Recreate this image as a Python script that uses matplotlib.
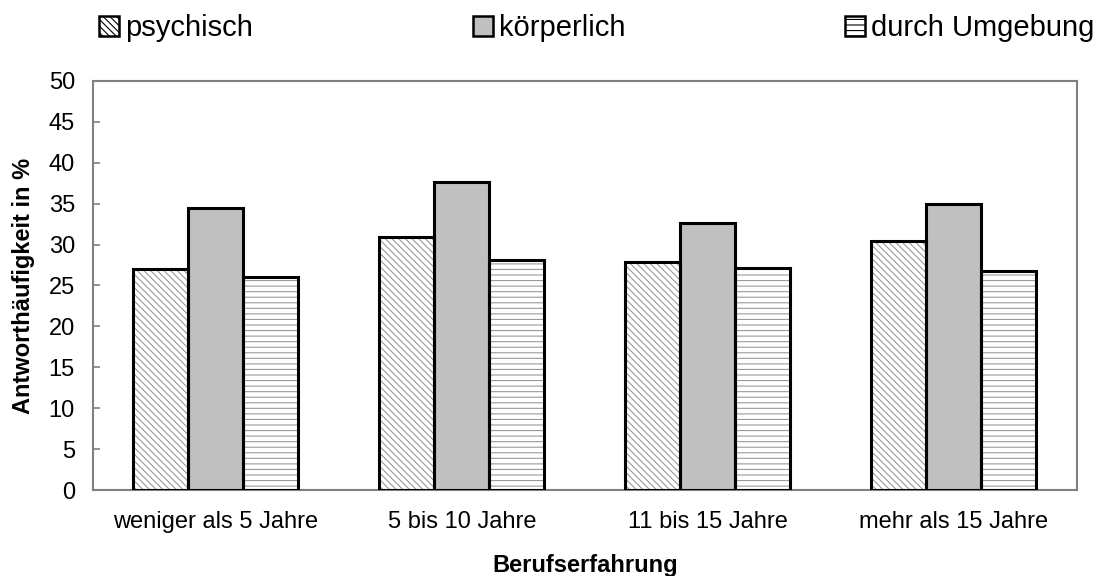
import numpy as np
import matplotlib
matplotlib.use("Agg")
import matplotlib.pyplot as plt
from matplotlib.patches import Patch

categories = ["weniger als 5 Jahre", "5 bis 10 Jahre", "11 bis 15 Jahre", "mehr als 15 Jahre"]
series_names = ["psychisch", "körperlich", "durch Umgebung"]
psychisch = [27.0, 30.9, 27.9, 30.4]
koerperlich = [34.5, 37.6, 32.7, 35.0]
umgebung = [26.0, 28.1, 27.1, 26.8]
yticks = list(range(0, 55, 5))

plt.rcParams['font.family'] = ['Liberation Sans', 'DejaVu Sans']
plt.rcParams['hatch.linewidth'] = 0.8

fig = plt.figure(figsize=(11, 5.76), dpi=100)
ax = fig.add_axes([0.0845, 0.1493, 0.8945, 0.7101])

x = np.arange(len(categories))
w = 0.2236
styles = [
    dict(fill='white', hatch='\\' * 5, hcol='#9a9a9a'),
    dict(fill='#c0c0c0', hatch=None, hcol=None),
    dict(fill='white', hatch='---', hcol='#9a9a9a'),
]
handles = []
for i, vals in enumerate([psychisch, koerperlich, umgebung]):
    st = styles[i]
    pos = x + (i - 1) * w
    # hatch layer (gray lines), then black outline on top
    ax.bar(pos, vals, w, color=st['fill'], hatch=st['hatch'],
           edgecolor=st['hcol'] if st['hcol'] else st['fill'], linewidth=0, zorder=2)
    ax.bar(pos, vals, w, facecolor='none', edgecolor='black', linewidth=2.2, zorder=3)
    handles.append(Patch(facecolor=st['fill'], hatch=st['hatch'],
                         edgecolor='black', linewidth=1.8))

ax.set_xlim(-0.5, len(categories) - 0.5)
ax.set_ylim(0, 50)
ax.set_yticks(yticks)
ax.set_xticks(x)
ax.set_xticklabels(categories, fontsize=17)
ax.tick_params(axis='x', length=0, pad=15)
ax.tick_params(axis='y', labelsize=17, direction='in', length=5, color='#808080',
               width=1.2, pad=13)
for s in ax.spines.values():
    s.set_color('#808080')
    s.set_linewidth(1.5)

ax.set_ylabel("Antworthäufigkeit in %", fontsize=17, fontweight='bold', labelpad=10)
ax.set_xlabel("Berufserfahrung", fontsize=17, fontweight='bold', labelpad=15)

fig.legend(handles, series_names, loc='upper left', ncol=3, mode='expand',
           bbox_to_anchor=(0.09, 0.975, 0.905, 0.0), frameon=False,
           fontsize=21, handlelength=0.7, handleheight=0.7, handletextpad=0.2,
           borderaxespad=0, borderpad=0)

fig.savefig("out.png", dpi=100)
